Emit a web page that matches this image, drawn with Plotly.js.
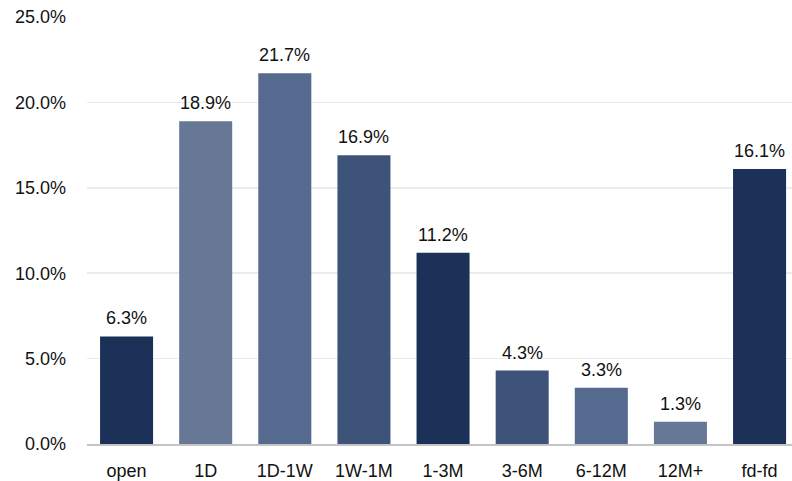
<!DOCTYPE html>
<html><head><meta charset="utf-8">
<script src="https://cdn.plot.ly/plotly-3.0.1.min.js"></script>
<style>html,body{margin:0;padding:0;background:#fff}#chart{width:792px;height:481px}</style>
</head><body><div id="chart"></div>
<script>
const categories = ["open","1D","1D-1W","1W-1M","1-3M","3-6M","6-12M","12M+","fd-fd"];
const values = [6.3,18.9,21.7,16.9,11.2,4.3,3.3,1.3,16.1];
const barColors = ["#1c3157","#667896","#56698e","#3d5379","#1c3157","#3d5379","#56698e","#667896","#1c3157"];
const yTickVals = [0,5,10,15,20,25];
const yTickText = ["0.0%","5.0%","10.0%","15.0%","20.0%","25.0%"];

const FONT = "Liberation Sans, Arial, Helvetica, sans-serif";
const labels = categories.map((c,i)=>({
  x:c, y:values[i], xref:"x", yref:"y",
  text: values[i].toFixed(1)+"%",
  showarrow:false, yanchor:"bottom", yshift:6,
  font:{family:FONT, size:18, color:"#111"}
}));

Plotly.newPlot("chart",[{
  type:"bar", x:categories, y:values,
  marker:{color:barColors},
  hoverinfo:"none"
}],{
  width:792, height:481,
  margin:{l:87,r:0,t:17,b:37},
  bargap:0.33,
  paper_bgcolor:"#fff", plot_bgcolor:"#fff",
  font:{family:FONT, size:18, color:"#111"},
  annotations: labels,
  xaxis:{range:[-0.5,8.41], showgrid:false, showline:true, linecolor:"#c4c4c4", linewidth:2, ticks:"", ticklabelstandoff:9, tickfont:{size:18}, fixedrange:true},
  yaxis:{range:[0,25], tickvals:yTickVals, ticktext:yTickText, showgrid:true, gridcolor:"#ebebeb", gridwidth:1.5, zeroline:false, showline:false, ticks:"", ticklabelstandoff:20, tickfont:{size:18}, fixedrange:true},
  showlegend:false
},{displayModeBar:false, staticPlot:true});
</script></body></html>
